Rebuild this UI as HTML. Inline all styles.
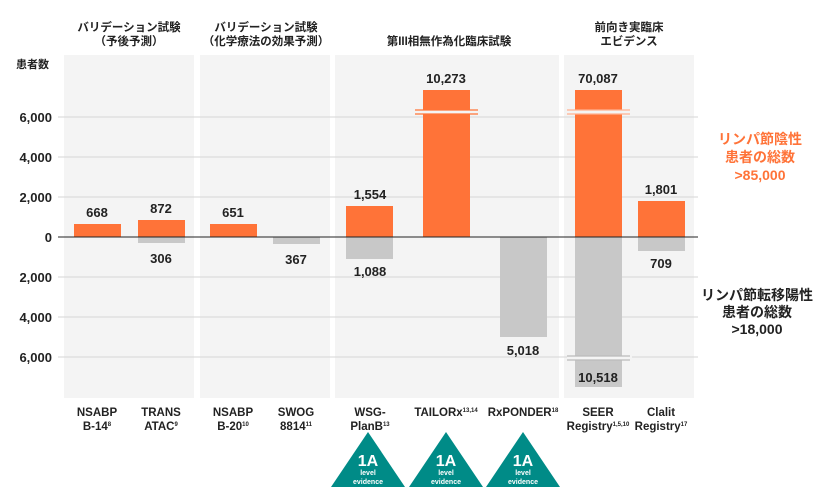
<!DOCTYPE html>
<html><head><meta charset="utf-8"><style>
body{margin:0;background:#fff;}
svg text{font-family:"Liberation Sans","Noto Sans CJK JP",sans-serif;font-weight:bold;fill:#222;}
</style></head><body>
<svg width="820" height="492" viewBox="0 0 820 492" xmlns="http://www.w3.org/2000/svg">
<rect x="64" y="55" width="130" height="343" fill="#f4f4f4"/>
<rect x="200" y="55" width="130" height="343" fill="#f4f4f4"/>
<rect x="335" y="55" width="224" height="343" fill="#f4f4f4"/>
<rect x="564" y="55" width="130" height="343" fill="#f4f4f4"/>
<g stroke="#d6d6d6" stroke-width="1">
<line x1="58" x2="698" y1="117" y2="117"/><line x1="58" x2="698" y1="157" y2="157"/><line x1="58" x2="698" y1="197" y2="197"/>
<line x1="58" x2="698" y1="277" y2="277"/><line x1="58" x2="698" y1="317" y2="317"/><line x1="58" x2="698" y1="357" y2="357"/>
</g>
<g font-size="13" text-anchor="end">
<text x="52" y="122">6,000</text><text x="52" y="162">4,000</text><text x="52" y="202">2,000</text><text x="52" y="242">0</text>
<text x="52" y="282">2,000</text><text x="52" y="322">4,000</text><text x="52" y="362">6,000</text>
</g>
<text x="16" y="68" font-size="11">患者数</text>
<g font-size="11.5" text-anchor="middle">
<text x="129" y="31">バリデーション試験</text><text x="129" y="45">（予後予測）</text>
<text x="266" y="31">バリデーション試験</text><text x="266" y="45">（化学療法の効果予測）</text>
<text x="449" y="45">第III相無作為化臨床試験</text>
<text x="629" y="31">前向き実臨床</text><text x="629" y="45">エビデンス</text>
</g>
<g fill="#ff7338">
<rect x="74" y="224" width="47" height="13"/>
<rect x="138" y="220" width="47" height="17"/>
<rect x="210" y="224" width="47" height="13"/>
<rect x="346" y="206" width="47" height="31"/>
<rect x="423" y="90" width="47" height="147"/>
<rect x="575" y="90" width="47" height="147"/>
<rect x="638" y="201" width="47" height="36"/>
</g>
<g fill="#c8c8c8">
<rect x="138" y="237" width="47" height="6"/>
<rect x="273" y="237" width="47" height="7"/>
<rect x="346" y="237" width="47" height="22"/>
<rect x="500" y="237" width="47" height="100"/>
<rect x="575" y="237" width="47" height="150"/>
<rect x="638" y="237" width="47" height="14"/>
</g>
<rect x="410" y="110" width="70" height="4" fill="#f4f4f4"/>
<line x1="415" x2="478" y1="110" y2="110" stroke="#ff7338" stroke-width="1.2"/>
<line x1="415" x2="478" y1="114" y2="114" stroke="#ff7338" stroke-width="1.2"/>
<rect x="567" y="110" width="65" height="4" fill="#f4f4f4"/>
<line x1="567" x2="630" y1="110" y2="110" stroke="#ffb090" stroke-width="1.2"/>
<line x1="567" x2="630" y1="114" y2="114" stroke="#ffb090" stroke-width="1.2"/>
<rect x="567" y="356" width="65" height="4" fill="#f4f4f4"/>
<line x1="567" x2="630" y1="356" y2="356" stroke="#bbb" stroke-width="1.2"/>
<line x1="567" x2="630" y1="360" y2="360" stroke="#bbb" stroke-width="1.2"/>
<line x1="58" x2="698" y1="237" y2="237" stroke="#222" stroke-width="1"/>
<g font-size="13" text-anchor="middle">
<text x="97" y="217">668</text><text x="161" y="213">872</text><text x="161" y="263">306</text>
<text x="233" y="217">651</text><text x="296" y="264">367</text>
<text x="370" y="199">1,554</text><text x="370" y="276">1,088</text>
<text x="446" y="83">10,273</text><text x="523" y="355">5,018</text>
<text x="598" y="83">70,087</text><text x="598" y="382">10,518</text>
<text x="661" y="194">1,801</text><text x="661" y="268">709</text>
</g>
<g font-size="11.5" text-anchor="middle">
<text x="97" y="416">NSABP</text><text x="97" y="430">B-14<tspan font-size="6" dy="-4">8</tspan></text>
<text x="161" y="416">TRANS</text><text x="161" y="430">ATAC<tspan font-size="6" dy="-4">9</tspan></text>
<text x="233" y="416">NSABP</text><text x="233" y="430">B-20<tspan font-size="6" dy="-4">10</tspan></text>
<text x="296" y="416">SWOG</text><text x="296" y="430">8814<tspan font-size="6" dy="-4">11</tspan></text>
<text x="370" y="416">WSG-</text><text x="370" y="430">PlanB<tspan font-size="6" dy="-4">13</tspan></text>
<text x="446" y="416">TAILORx<tspan font-size="6" dy="-4">13,14</tspan></text>
<text x="523" y="416">RxPONDER<tspan font-size="6" dy="-4">18</tspan></text>
<text x="598" y="416">SEER</text><text x="598" y="430">Registry<tspan font-size="6" dy="-4">1,5,10</tspan></text>
<text x="661" y="416">Clalit</text><text x="661" y="430">Registry<tspan font-size="6" dy="-4">17</tspan></text>
</g>
<g text-anchor="middle">
<g transform="translate(368,0)"><polygon points="0,432 37,487 -37,487" fill="#008b87"/><text y="466" font-size="16" style="fill:#fff">1A</text><text y="475" font-size="7" style="fill:#fff">level</text><text y="484" font-size="7" style="fill:#fff">evidence</text></g>
<g transform="translate(446,0)"><polygon points="0,432 37,487 -37,487" fill="#008b87"/><text y="466" font-size="16" style="fill:#fff">1A</text><text y="475" font-size="7" style="fill:#fff">level</text><text y="484" font-size="7" style="fill:#fff">evidence</text></g>
<g transform="translate(523,0)"><polygon points="0,432 37,487 -37,487" fill="#008b87"/><text y="466" font-size="16" style="fill:#fff">1A</text><text y="475" font-size="7" style="fill:#fff">level</text><text y="484" font-size="7" style="fill:#fff">evidence</text></g>
</g>
<g text-anchor="middle" font-size="14">
<text x="760" y="144" style="fill:#ff7338">リンパ節陰性</text>
<text x="760" y="162" style="fill:#ff7338">患者の総数</text>
<text x="760" y="180" style="fill:#ff7338">&gt;85,000</text>
<text x="757" y="300">リンパ節転移陽性</text>
<text x="757" y="317">患者の総数</text>
<text x="757" y="334">&gt;18,000</text>
</g>
</svg>
</body></html>
